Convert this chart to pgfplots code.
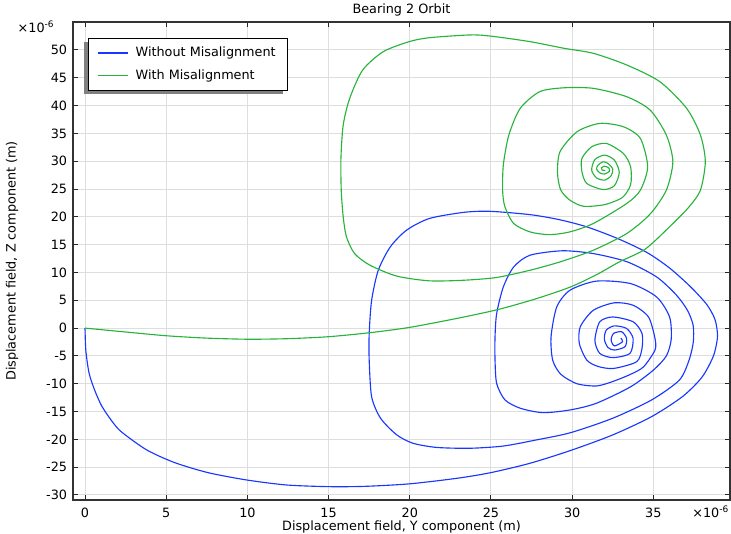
\documentclass[border=0pt]{standalone}
\usepackage{pgfplots}
\pgfplotsset{compat=1.18}
\usepackage{fontspec}
\setmainfont{DejaVu Sans}
\usetikzlibrary{shadows}
\makeatletter
\tikzset{nopreaction/.code={\def\tikz@preactions{}}}
\makeatother
\definecolor{cblue}{RGB}{25,55,255}
\definecolor{cgreen}{RGB}{40,180,60}
\begin{document}
\fontsize{9.6}{11}\selectfont
\begin{tikzpicture}
\useasboundingbox (0,0) rectangle (548.25pt,400.5pt);
\begin{axis}[
 at={(54.75pt,25.5pt)}, anchor=south west,
 scale only axis, width=492.75pt, height=358.5pt,
 xmin=-0.74, xmax=39.72, ymin=-30.9, ymax=55.03,
 xtick={0,5,...,35}, xticklabels={0,5,10,15,20,25,30,35},
 ytick={-30,-25,...,50},
 yticklabels={-30,-25,-20,-15,-10,-5,0,5,10,15,20,25,30,35,40,45,50},
 tick align=inside, major tick length=3.75pt,
 tick style={black!85, line width=0.75pt},
 grid=major, grid style={black!13, line width=0.75pt},
 axis line style={black!80, line width=0.9pt},
 ticklabel style={font=\fontsize{9.6}{11}\selectfont},
 xticklabel style={yshift=-2.6pt},
 yticklabel style={xshift=-1pt},
 legend cell align=left,
 legend image code/.code={\draw[nopreaction,#1] (0cm,0cm) -- (0.81cm,0cm); \path[nopreaction] (0.81cm+3pt,0cm);},
 legend style={at={(axis description cs:0.0228,0.9665)}, anchor=north west,
   draw=black, line width=0.75pt, fill=white,
   drop shadow={shadow xshift=-3pt, shadow yshift=-2.6pt, fill=black!50, opacity=1},
   font=\fontsize{9.6}{11}\selectfont, row sep=4.2pt, inner xsep=6.5pt, inner ysep=4.5pt},
]
\addplot[cblue, line width=0.85pt, smooth, tension=0.45] coordinates {
(0,0) (0.05,-4) (0.25,-8.1) (0.6,-11.2) (1.03,-14.0) (1.6,-16.5) (2.22,-18.6) (3.8,-21.9) (5.54,-24.2) (7.6,-26.0) (9.95,-27.3) (12.4,-28.2) (15.0,-28.5) (17.2,-28.45) (19.97,-28.0) (22.9,-27.0) (24.96,-26.0) (27.4,-24.3) (29.9,-22.0) (32.5,-19.2) (34.9,-15.9) (36.8,-12.3) (38.0,-8.8) (38.7,-5.0) (38.95,-1.5) (38.8,1.5) (38.3,4.2) (37.3,7.4) (36.0,10.8) (34.6,13.6) (32.8,16.1) (30.9,18.2) (29.2,19.5) (27.4,20.4) (24.9,21.0) (23.3,20.8) (21.2,19.7) (19.8,17.6) (18.8,14.6) (18.06,10.4) (17.65,5.0) (17.5,-1.0) (17.5,-5.75) (17.65,-12.35) (18.2,-16.2) (19.2,-19.2) (20.2,-20.7) (21.65,-21.45) (23.7,-21.6) (25.76,-21.2) (27.8,-20.1) (29.9,-18.8) (32.5,-16.2) (34.9,-12.9) (36.6,-9.35) (37.2,-5.75) (37.46,-2.5) (37.45,0.5) (37.1,3.2) (36.4,6.0) (35.2,9.2) (33.4,11.9) (31.3,13.4) (29.4,13.9) (27.4,13.1) (26.4,11.0) (25.76,7.4) (25.35,2.6) (25.25,-1.55) (25.25,-5.75) (25.35,-9.95) (25.86,-12.9) (26.8,-14.4) (28.2,-15.2) (29.9,-14.7) (31.5,-13.5) (33.6,-10.55) (35.0,-7.55) (35.8,-5.0) (36.1,-2.0) (36.0,2.0) (35.2,5.6) (33.6,8.0) (31.5,8.45) (29.86,6.8) (29.05,3.8) (28.7,-1.55) (28.8,-5.75) (29.3,-8.3) (30.3,-10.0) (31.5,-10.4) (32.5,-9.6) (33.6,-8.3) (34.4,-6.95) (35.1,-3.95) (35.1,-1.85) (34.7,2.0) (33.76,4.1) (32.6,4.55) (31.3,3.2) (30.5,0.24) (30.44,-2.75) (30.9,-5.75) (31.6,-6.9) (32.55,-7.25) (33.97,-6.05) (34.3,-3.65) (34.3,-0.96) (33.76,1.13) (32.5,2.0) (31.7,1.13) (31.4,-2.2) (31.7,-4.55) (32.5,-5.3) (33.56,-4.55) (33.75,-1.85) (33.35,-0.06) (32.6,0.4) (32.1,-0.36) (31.98,-2.0) (32.2,-3.47) (32.6,-3.95) (33.25,-3.35) (33.35,-1.85) (33.05,-0.66) (32.55,-0.96) (32.4,-2.15) (32.6,-3.2) (33.1,-2.45) (33.0,-1.8)
};
\addlegendentry{Without Misalignment}
\addplot[cgreen, line width=0.85pt, smooth, tension=0.45] coordinates {
(0,0) (2.5,-0.7) (5.03,-1.38) (7.5,-1.8) (10.06,-2.0) (12.5,-1.9) (14.98,-1.55) (17.5,-0.84) (19.97,0.12) (22.9,1.74) (25.45,3.35) (27.8,5.3) (29.9,7.4) (31.5,9.6) (32.9,11.9) (34.5,14.2) (36.1,18.5) (37.2,21.8) (37.9,24.8) (38.2,29.9) (37.9,34.7) (37.05,39.5) (35.4,44.3) (33.36,47.3) (31.3,49.4) (29.5,50.3) (27.4,51.5) (24.96,52.5) (23.7,52.7) (21.2,52.2) (19.97,51.5) (18.37,49.7) (17.1,46.4) (16.3,41.3) (15.9,36.5) (15.76,30.5) (15.78,24.7) (15.9,20.0) (16.1,16.4) (16.6,13.4) (17.55,11.3) (19.2,9.35) (21.2,8.5) (23.3,8.6) (25.35,9.1) (27.4,10.4) (29.25,11.9) (31.3,14.0) (33.36,17.0) (34.8,20.5) (35.8,24.8) (36.2,29.9) (35.8,34.7) (34.8,39.2) (33.36,41.6) (31.3,43.1) (29.5,43.2) (28.0,42.5) (26.8,39.5) (26.1,34.7) (25.76,29.3) (25.72,24.6) (25.86,21.8) (26.4,18.8) (27.4,17.3) (28.6,16.8) (29.86,17.3) (31.3,18.8) (33.36,22.4) (34.2,24.8) (34.65,29.0) (34.2,34.1) (33.15,36.2) (31.7,36.8) (30.3,35.3) (29.25,31.7) (29.1,27.8) (29.3,24.8) (29.86,23.0) (30.7,21.9) (32.0,22.2) (33.1,23.5) (33.6,25.8) (33.6,29.0) (33.15,31.4) (32.1,33.2) (31.2,32.6) (30.6,30.5) (30.6,28.1) (30.9,26.0) (31.9,24.9) (32.6,25.6) (32.9,28.0) (32.6,30.2) (32.0,31.1) (31.4,30.3) (31.2,28.4) (31.5,27.0) (32.0,26.6) (32.4,27.4) (32.5,28.6) (32.2,29.6) (31.9,29.9) (31.6,29.3) (31.5,28.6) (31.7,27.9) (32.0,27.7) (32.3,28.2) (32.25,28.8) (32.0,29.1) (31.8,28.8) (31.85,28.4) (32.05,28.35)
};
\addlegendentry{With Misalignment}
\end{axis}
\node at (301.1pt,393pt) {Bearing 2 Orbit};
\node at (301.1pt,5.2pt) {Displacement field, Y component (m)};
\node[rotate=90] at (9pt,204.75pt) {Displacement field, Z component (m)};
\node at (27pt,380.25pt) {×10\textsuperscript{-6}};
\node at (533pt,16.5pt) {×10\textsuperscript{-6}};
\end{tikzpicture}
\end{document}
